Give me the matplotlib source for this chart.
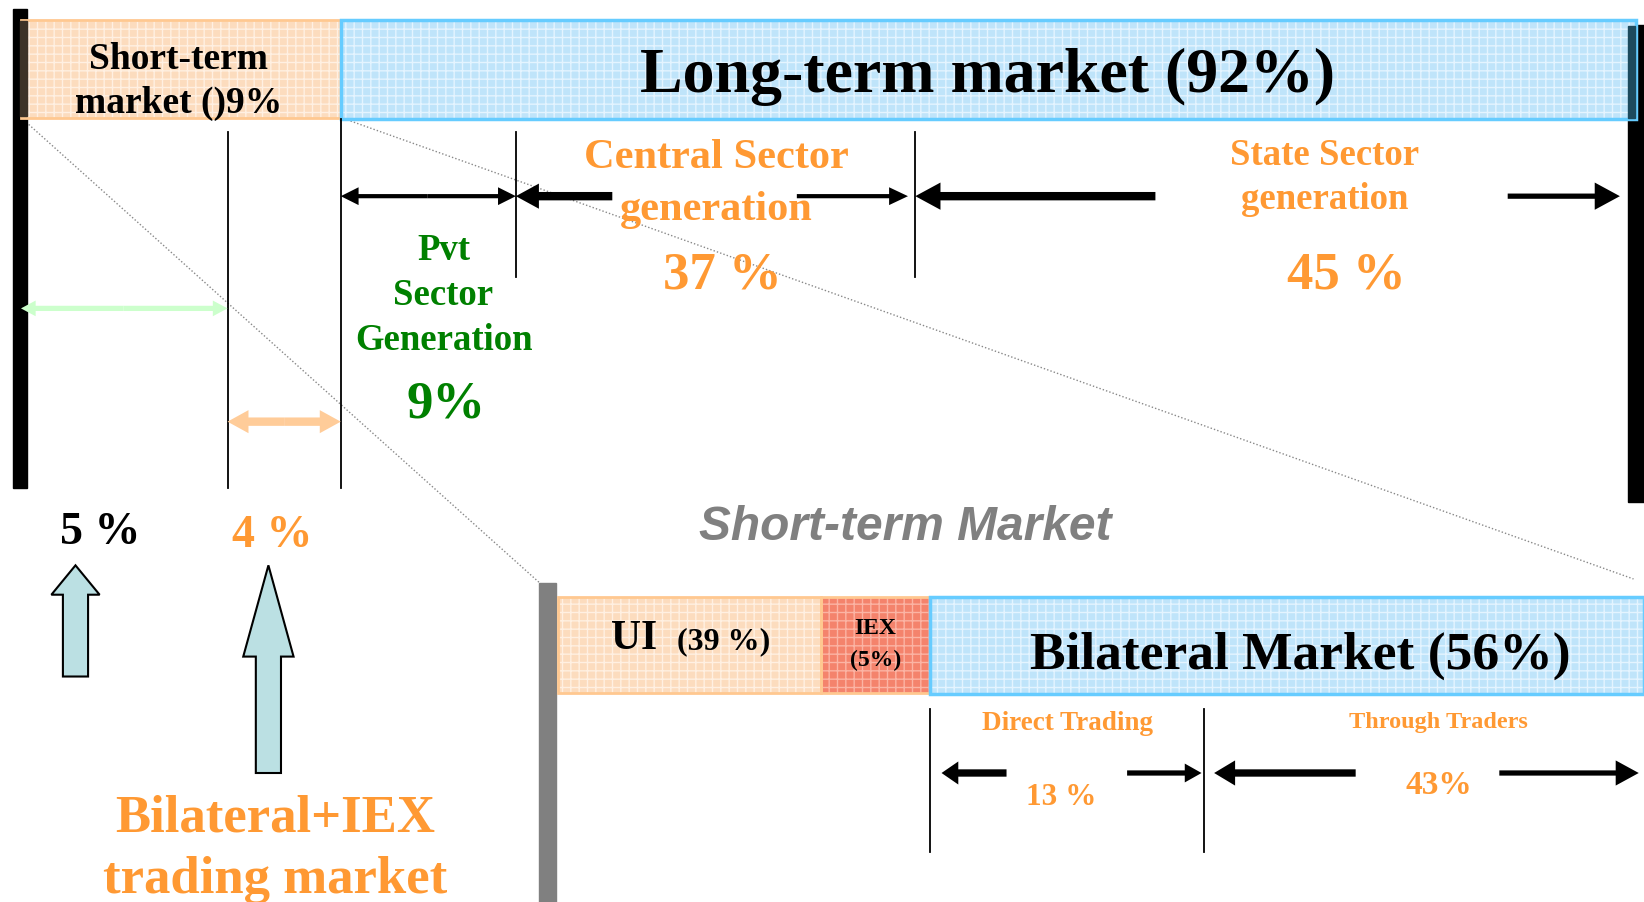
import matplotlib.pyplot as plt
from matplotlib.patches import Rectangle, Polygon

# chart text / values
top_labels = ['Short-term\nmarket ()9%', 'Long-term market (92%)']
gen_labels = ['Pvt\nSector\nGeneration', 'Central Sector\ngeneration', 'State Sector\ngeneration']
gen_shares = ['9%', '37 %', '45 %']
short_shares = ['5 %', '4 %']
bottom_title = 'Short-term Market'
st_labels = ['UI', 'IEX\n(5%)', 'Bilateral Market (56%)']
ui_share = '(39 %)'
bil_labels = ['Direct Trading', 'Through Traders']
bil_shares = ['13 %', '43%']
side_label = 'Bilateral+IEX\ntrading market'

ORANGE = '#FF9933'
GREEN = '#008000'
SERIF = ['Liberation Serif', 'DejaVu Serif']

fig = plt.figure(figsize=(16.44, 9.03), dpi=100)
ax = fig.add_axes([0, 0, 1, 1])
ax.set_xlim(0, 1568)
ax.set_ylim(861, 0)
ax.axis('off')


def box(x0, x1, y0, y1, fc, hc, ec, lw):
    ax.add_patch(Rectangle((x0, y0), x1 - x0, y1 - y0, facecolor=fc, edgecolor='none', zorder=2))
    ax.add_patch(Rectangle((x0, y0), x1 - x0, y1 - y0, fill=False, hatch='++', edgecolor=hc, lw=0, zorder=3))
    ax.add_patch(Rectangle((x0, y0), x1 - x0, y1 - y0, fill=False, edgecolor=ec, lw=lw, zorder=4))


def txt(s, x, y, size, color='black', step=None):
    # one text object per line so the line spacing can follow the picture
    if step is None:
        step = size * 1.6
    for i, ln in enumerate(s.split('\n')):
        ax.text(x, y + 3 + i * step, ln, fontsize=size, color=color, ha='center', va='center',
                family=SERIF, fontweight='bold', zorder=6)


def harrow(x0, x1, y, w, hw, hl, color='black'):
    # arrow from x0 pointing to x1
    ax.arrow(x0, y, x1 - x0, 0, width=w, head_width=hw, head_length=hl,
             length_includes_head=True, fc=color, ec=color, lw=0, zorder=5)


def vline(x, y0, y1, lw=1.3, color='black'):
    ax.plot([x, x], [y0, y1], color=color, lw=lw, zorder=4)


# dotted zoom lines
ax.plot([20, 515], [113, 557], color='#888888', lw=1, ls=(0, (1, 1.5)), zorder=1)
ax.plot([325, 1558], [113, 553], color='#888888', lw=1, ls=(0, (1, 1.5)), zorder=1)

# top bar
ax.add_patch(Rectangle((12, 10), 14, 456, color='black', zorder=1))
ax.add_patch(Rectangle((1553, 25), 15, 455, color='black', zorder=1))
box(20, 325, 20, 113, '#FCDCBE', '#FFF0E2', '#FFC890', 2)
box(325, 1560, 20, 114, '#BFE4FA', '#E4F4FF', '#66CCFF', 2.5)
ax.add_patch(Rectangle((19, 21), 7, 91, color='#3d3328', zorder=5))
ax.add_patch(Rectangle((1553, 26), 6, 87, color='#1d4a5e', zorder=5))
txt(top_labels[0], 170, 54, 27, step=42)
txt(top_labels[1], 942, 70, 46)

# separators in top section
vline(217, 127, 466)
vline(325, 114, 466)
vline(492, 127, 265)
vline(873, 127, 265)

# generation arrows
harrow(408, 325, 188, 4, 17, 17)
harrow(408, 492, 188, 4, 17, 17)
harrow(584, 492, 188, 8, 24, 22)
harrow(760, 866, 188, 4, 17, 18)
harrow(1102, 873, 188, 8, 26, 24)
harrow(1438, 1545, 188, 5, 26, 24)

# short-term split arrows
harrow(118, 20, 295, 5, 15, 14, '#CCFFCC')
harrow(118, 217, 295, 5, 15, 14, '#CCFFCC')
harrow(271, 217, 403, 8, 22, 20, '#FFCC99')
harrow(271, 325, 403, 8, 22, 20, '#FFCC99')

# generation labels
txt(gen_labels[0], 423, 236, 26.5, GREEN, step=43)
txt(gen_shares[0], 425, 383, 38, GREEN)
txt(gen_labels[1], 683, 148, 30.5, ORANGE, step=49)
txt(gen_shares[1], 689, 260, 38, ORANGE)
txt(gen_labels[2], 1263, 145, 26.5, ORANGE, step=42)
txt(gen_shares[2], 1284, 260, 38, ORANGE)

# short-term shares and block arrows
txt(short_shares[0], 96, 505, 33)
txt(short_shares[1], 260, 508, 33, ORANGE)
for cx, tip, base, bottom, sw, hw in [(72, 540, 568, 646, 12, 23), (256, 540, 627, 738, 12, 24)]:
    pts = [(cx, tip), (cx + hw, base), (cx + sw, base), (cx + sw, bottom),
           (cx - sw, bottom), (cx - sw, base), (cx - hw, base)]
    ax.add_patch(Polygon(pts, closed=True, facecolor='#BBE0E3', edgecolor='black', lw=1.5, zorder=5))
txt(side_label, 262, 777, 38, ORANGE, step=59)

# short-term market breakdown
ax.text(863, 503, bottom_title, fontsize=34.5, color='#808080', ha='center', va='center',
        family=['Liberation Sans', 'DejaVu Sans'], fontweight='bold', fontstyle='italic', zorder=6)
ax.add_patch(Rectangle((514, 557), 16, 310, color='#808080', zorder=2))
box(532, 783, 570, 662, '#FCDCBE', '#FFF0E2', '#FFC890', 2)
box(783, 887, 570, 662, '#F4836C', '#FBB4A4', '#FFC890', 2)
box(887, 1568, 570, 663, '#BFE4FA', '#E4F4FF', '#66CCFF', 2.5)
txt(st_labels[0], 605, 606, 30)
txt(ui_share, 690, 609, 23)
txt(st_labels[1], 835, 596, 17, step=31)
txt(st_labels[2], 1240, 622, 38.5)

vline(887, 677, 813)
vline(1148, 677, 813)
txt(bil_labels[0], 1018, 687, 19.5, ORANGE)
txt(bil_labels[1], 1372, 686, 17.5, ORANGE)
txt(bil_shares[0], 1012, 757, 22.5, ORANGE)
txt(bil_shares[1], 1372, 746, 24, ORANGE)
harrow(960, 898, 738, 7, 22, 16)
harrow(1075, 1146, 738, 5, 18, 16)
harrow(1293, 1158, 738, 7, 24, 20)
harrow(1430, 1563, 738, 5, 24, 22)

fig.savefig('out.png', dpi=100, facecolor='white')
